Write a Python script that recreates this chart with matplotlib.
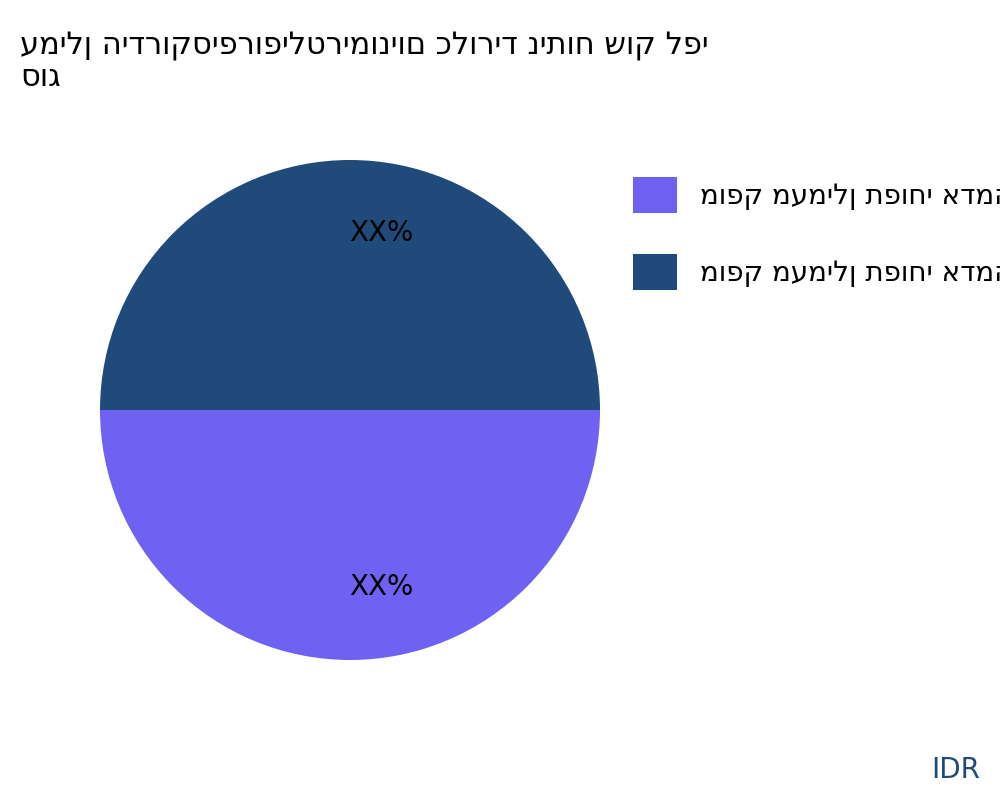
import matplotlib
matplotlib.use("Agg")
import matplotlib.pyplot as plt
from matplotlib.patches import Patch

TITLE = "עמילן הידרוקסיפרופילטרימוניום כלוריד ניתוח שוק לפי\nסוג"
CATEGORIES = ["מופק מעמילן תפוחי אדמה שונה", "מופק מעמילן תפוחי אדמה טבעי"]
SHARES = [50, 50]
PCT_LABELS = ["XX%", "XX%"]
COLORS = ["#6F61F2", "#1F4A7A"]

fig = plt.figure(figsize=(10, 8), dpi=100)
ax = fig.add_axes([0.1, 0.175, 0.5, 0.625])

wedges, _ = ax.pie(SHARES, colors=COLORS, startangle=0, counterclock=False,
                   wedgeprops=dict(linewidth=0))
ax.set_aspect("equal")
ax.set_xlim(-1, 1)
ax.set_ylim(-1, 1)

# percentage labels, slightly right of the wedge middles
for w, lbl in zip(wedges, PCT_LABELS):
    import numpy as np
    ang = np.deg2rad((w.theta1 + w.theta2) / 2)
    ax.text(0.71 * np.cos(ang) + 0.125, 0.71 * np.sin(ang), lbl,
            ha="center", va="center", fontsize=20, color="black")

fig.text(0.02, 0.96, TITLE, fontsize=22, ha="left", va="top", linespacing=1.1)

handles = [Patch(facecolor=c, edgecolor="none") for c in COLORS]
fig.legend(handles, CATEGORIES, loc="upper left", bbox_to_anchor=(0.608, 0.81),
           frameon=False, fontsize=20, handlelength=1.6, handleheight=1.6,
           labelspacing=1.5, handletextpad=0.8)

fig.text(0.98, 0.02, "IDR", fontsize=20, color="#1F4A7A", ha="right", va="bottom")

fig.savefig("out.png")
